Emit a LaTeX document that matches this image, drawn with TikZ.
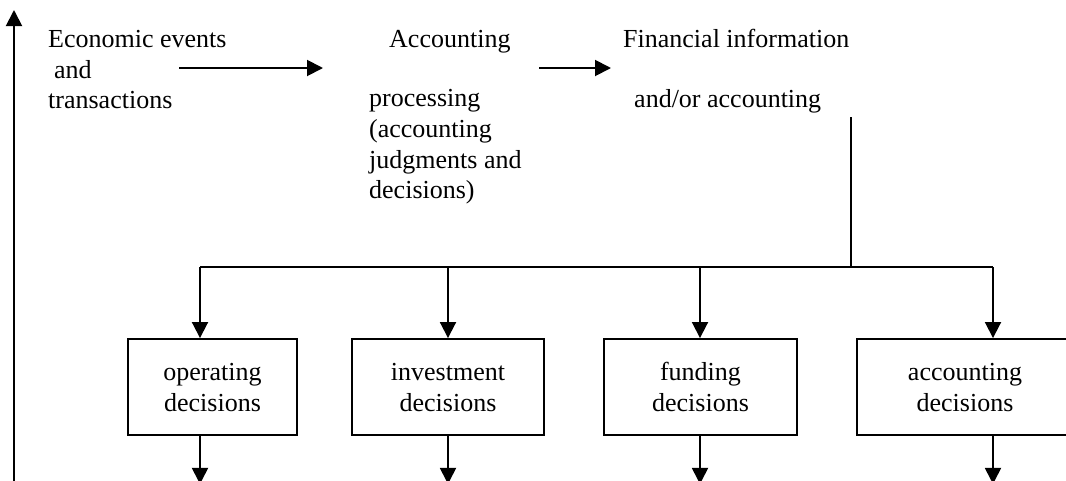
\documentclass[tikz,border=0pt]{standalone}
\usepackage{fontspec}
\setmainfont{Liberation Serif}
\usetikzlibrary{arrows.meta}
\tikzset{
  lbl/.style={anchor=base west, inner sep=0pt, font=\fontsize{26}{30.5}\selectfont},
  decbox/.style={draw, line width=1.9pt, minimum height=96pt, inner sep=0pt, align=center,
                 font=\fontsize{26}{31}\selectfont},
  arr/.style={line width=1.9pt, -{Triangle[length=16pt,width=16pt]}},
  ln/.style={line width=1.9pt}
}
\newcommand{\eqh}{\vphantom{fd}}
\begin{document}
\begin{tikzpicture}[x=1pt,y=-1pt]
\useasboundingbox (0,0) rectangle (1066,480);
\clip (0,0) rectangle (1066,480);
% top texts
\node[lbl] (e1) at (48,47) {Economic events};
\node[lbl] (e2) at (54,78) {and};
\node[lbl] (e3) at (48,108) {transactions};
\node[lbl] (acc) at (389,47) {Accounting};
\node[lbl] (p1) at (369,106) {processing};
\node[lbl] (p2) at (369,137) {(accounting};
\node[lbl] (p3) at (369,168) {judgments and};
\node[lbl] (p4) at (369,198) {decisions)};
\node[lbl] (f1) at (623,47) {Financial information};
\node[lbl] (f2) at (634,107) {and/or accounting};
% decision boxes
\node[decbox, minimum width=169pt] (op) at (212.5,387) {\eqh operating\\decisions};
\node[decbox, minimum width=192pt] (inv) at (448,387) {\eqh investment\\decisions};
\node[decbox, minimum width=193pt] (fun) at (700.5,387) {\eqh funding\\decisions};
\node[decbox, minimum width=216pt] (acd) at (965,387) {\eqh accounting\\decisions};
% coordinates
\coordinate (a1s) at (179,68);
\coordinate (a1e) at (323,68);
\coordinate (a2s) at (539,68);
\coordinate (a2e) at (611,68);
\coordinate (vtop) at (851,117);
\coordinate (vbot) at (851,267);
\coordinate (j1) at (200,267);
\coordinate (j2) at (448,267);
\coordinate (j3) at (700,267);
\coordinate (j4) at (993,267);
\coordinate (up0) at (14,490);
\coordinate (up1) at (14,10);
% connectors
\draw[arr] (up0) -- (up1);
\draw[arr] (a1s) -- (a1e);
\draw[arr] (a2s) -- (a2e);
\draw[ln] (vtop) -- (vbot);
\draw[ln] (j1) -- (j4);
\draw[arr] (j1) -- (j1 |- op.north);
\draw[arr] (j2) -- (j2 |- inv.north);
\draw[arr] (j3) -- (j3 |- fun.north);
\draw[arr] (j4) -- (j4 |- acd.north);
\draw[arr] (j1 |- op.south) -- ++(0,48);
\draw[arr] (j2 |- inv.south) -- ++(0,48);
\draw[arr] (j3 |- fun.south) -- ++(0,48);
\draw[arr] (j4 |- acd.south) -- ++(0,48);
\end{tikzpicture}
\end{document}
